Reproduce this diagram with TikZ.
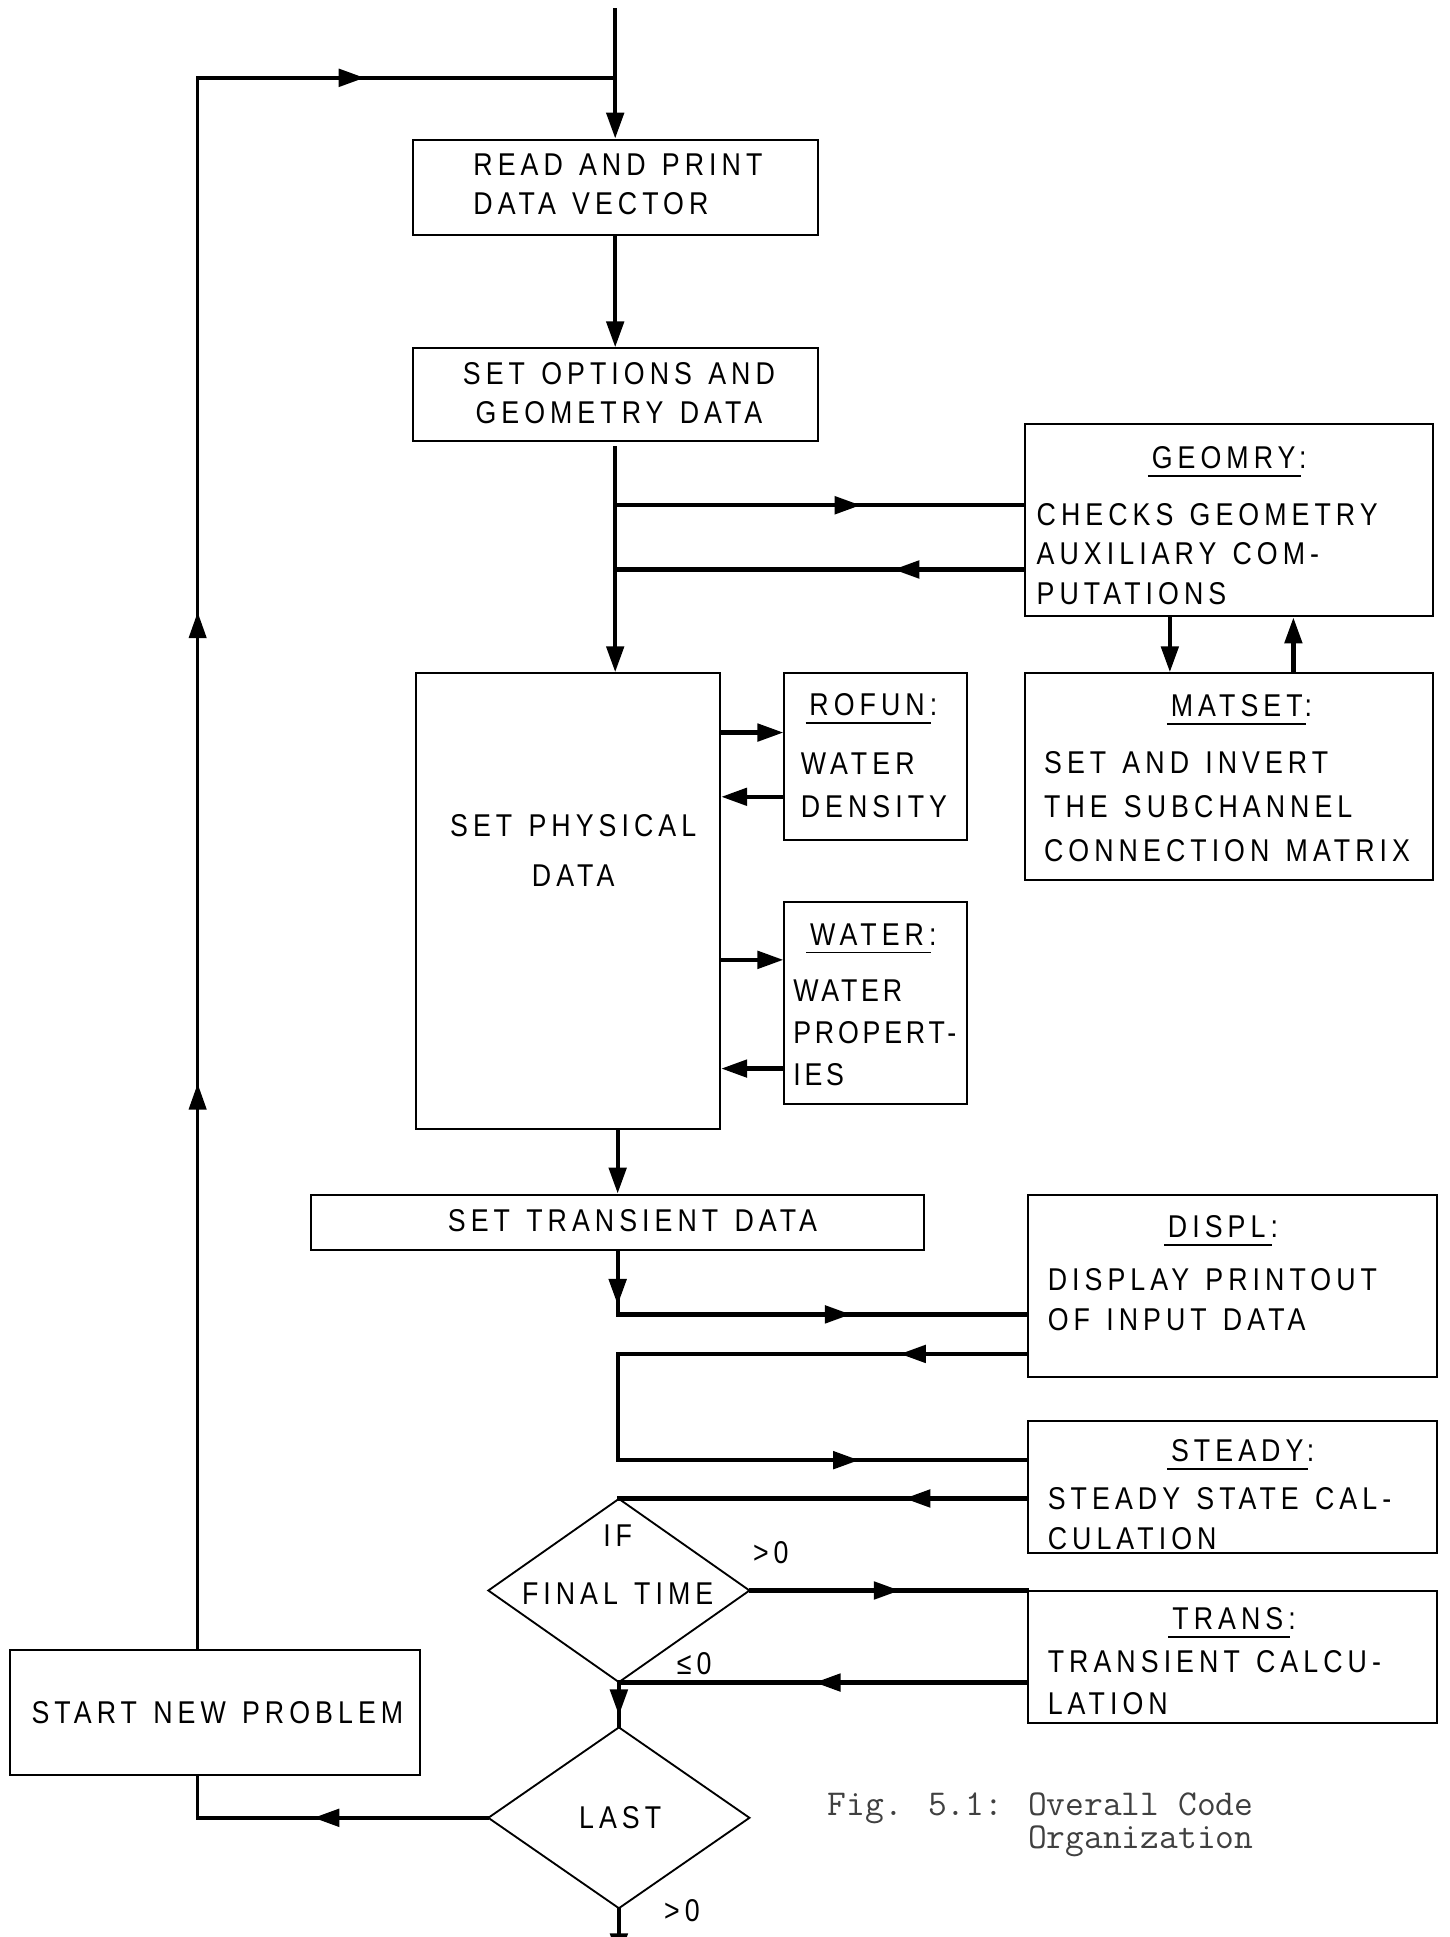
\documentclass[tikz,border=0pt]{standalone}
\usepackage{fontspec}
\setmainfont{Liberation Sans}[FakeStretch=0.85,LetterSpace=16,WordSpace=1.3]
\usetikzlibrary{arrows.meta,decorations.markings,shapes.geometric}
\tikzset{
  box/.style={draw,line width=1.7pt,inner sep=0pt},
  dia/.style={draw,diamond,line width=1.5pt,inner sep=0pt},
  txt/.style={inner sep=0pt,font=\fontsize{25.5}{32}\selectfont},
  flow/.style={line width=3.4pt,line cap=rect},
  leftline/.style={line width=2.6pt,line cap=rect},
  tipa/.style={-{Triangle[length=21pt,width=14pt]}},
  marr/.style={postaction={decorate,decoration={markings,mark=at position #1 with {\arrow{Triangle[length=21pt,width=14pt]}}}}},
  uline/.style={line width=1.5pt},
}
\begin{document}
\begin{tikzpicture}[x=1pt,y=-1pt]
\useasboundingbox (0,0) rectangle (1173,1568);

% boxes
\node[box,minimum width=328pt,minimum height=77pt] (read) at (498,151.5) {};
\node[box,minimum width=328pt,minimum height=75pt] (opts) at (498,319.5) {};
\node[box,minimum width=330pt,minimum height=156pt] (geomry) at (995,421) {};
\node[box,minimum width=330pt,minimum height=167pt] (matset) at (995,628.5) {};
\node[box,minimum width=246pt,minimum height=369pt] (phys) at (460,729.5) {};
\node[box,minimum width=148pt,minimum height=135pt] (rofun) at (709,612.5) {};
\node[box,minimum width=148pt,minimum height=164pt] (water) at (709,812) {};
\node[box,minimum width=496pt,minimum height=45pt] (tdata) at (500,989.5) {};
\node[box,minimum width=331pt,minimum height=148pt] (displ) at (997.5,1041) {};
\node[box,minimum width=331pt,minimum height=107pt] (steady) at (997.5,1203.5) {};
\node[box,minimum width=331pt,minimum height=107pt] (trans) at (997.5,1341.5) {};
\node[box,minimum width=332pt,minimum height=101pt] (start) at (174,1386.5) {};
\node[dia,minimum width=212pt,minimum height=149pt] (ifd) at (501,1287.5) {};
\node[dia,minimum width=212pt,minimum height=147pt] (last) at (501,1471.5) {};

% texts
\node[txt,align=left,anchor=north west] (readT) at (383,124) {READ AND PRINT\\DATA VECTOR};
\node[txt,align=center,anchor=north] (optsT) at (501,293) {SET OPTIONS AND\\GEOMETRY DATA};
\node[txt,anchor=base] (gTi) at (995,379) {GEOMRY:};
\node[txt,align=left,anchor=north west] (gT) at (839,407) {CHECKS GEOMETRY\\AUXILIARY COM-\\PUTATIONS};
\node[txt,anchor=base] (mTi) at (1005,580) {MATSET:};
\node[txt,align=left,anchor=north west,font=\fontsize{25.5}{35.5}\selectfont] (mT) at (845,608) {SET AND INVERT\\THE SUBCHANNEL\\CONNECTION MATRIX};
\node[txt,anchor=base] (rTi) at (707,579) {ROFUN:};
\node[txt,align=left,anchor=north west,font=\fontsize{25.5}{35}\selectfont] (rT) at (648,609) {WATER\\DENSITY};
\node[txt,anchor=base] (wTi) at (707,765) {WATER:};
\node[txt,align=left,anchor=north west,font=\fontsize{25.5}{34}\selectfont\addfontfeature{LetterSpace=12}] (wT) at (642,793) {WATER\\PROPERT-\\IES};
\node[txt,align=center,anchor=north,font=\fontsize{25.5}{41}\selectfont] (physT) at (464,659) {SET PHYSICAL\\DATA};
\node[txt] (tdataT) at (512,988) {SET TRANSIENT DATA};
\node[txt,anchor=base] (dTi) at (990,1002) {DISPL:};
\node[txt,align=left,anchor=north west] (dT) at (848,1027) {DISPLAY PRINTOUT\\OF INPUT DATA};
\node[txt,anchor=base] (sTi) at (1006,1183) {STEADY:};
\node[txt,align=left,anchor=north west] (sT) at (848,1204) {STEADY STATE CAL-\\CULATION};
\node[txt,anchor=base] (tTi) at (999,1319) {TRANS:};
\node[txt,align=left,anchor=north west,font=\fontsize{25.5}{34}\selectfont] (tT) at (848,1336) {TRANSIENT CALCU-\\LATION};
\node[txt] (startT) at (176,1386) {START NEW PROBLEM};
\node[txt] (ifT1) at (500,1243) {IF};
\node[txt] (ifT2) at (500,1290) {FINAL TIME};
\node[txt] (lastT) at (502,1471) {LAST};
\node[txt] (gt1) at (624,1257) {>0};
\node[txt] (le1) at (562,1347) {≤0};
\node[txt] (gt2) at (552,1547) {>0};
\node[inner sep=0pt,align=left,anchor=north west,text=black!75,font=\ttfamily\fontsize{29.5}{27}\selectfont] (cap) at (670,1451) {Fig. 5.1: Overall Code\\\phantom{Fig. 5.1: }Organization};

% underlines
\foreach \t in {gTi,mTi,rTi,wTi,dTi,sTi,tTi}{
  \draw[uline] ([xshift=-3pt,yshift=-6pt]\t.base west) -- ([xshift=-5pt,yshift=-6pt]\t.base east);
}

% coordinates
\coordinate (topref) at (0,8);
\coordinate (j1) at (498,63);
\coordinate (b1) at (498,409);
\coordinate (b2) at (498,461);
\coordinate (r1) at ([yshift=19.5pt]rofun.west);
\coordinate (r2) at ([yshift=-32.5pt]rofun.west);
\coordinate (w1) at ([yshift=35pt]water.west);
\coordinate (w2) at ([yshift=-53pt]water.west);
\coordinate (d1) at ([yshift=-23pt]displ.west);
\coordinate (d2) at ([yshift=-55pt]displ.west);
\coordinate (c1) at (tdata.south |- d1);
\coordinate (c2) at (tdata.south |- d2);
\coordinate (s1) at ([yshift=21.5pt]steady.west);
\coordinate (c3) at (tdata.south |- s1);
\coordinate (s2) at ([yshift=-9.5pt]steady.west);
\coordinate (t2) at ([yshift=-20.5pt]trans.west);
\coordinate (lx) at ([xshift=-14pt]start.south);
\coordinate (sx) at ([xshift=-14pt]start.north);
\coordinate (tl) at (sx |- j1);
\coordinate (botref) at (0,1586);
\coordinate (bot) at (last.south |- botref);

% connectors
\draw[flow,tipa] (read.north |- topref) -- (read.north);
\draw[flow,tipa] (read.south) -- (opts.north);
\draw[flow,tipa] ([yshift=-5pt]opts.south) -- (opts.south |- phys.north);
\draw[flow,marr=0.6] (b1) -- (b1 -| geomry.west);
\draw[flow,marr=0.32] (b2 -| geomry.west) -- (b2);
\draw[flow,tipa] ([xshift=-48pt]geomry.south) -- ([xshift=-48pt]matset.north);
\draw[flow,tipa] ([xshift=52pt]matset.north) -- ([xshift=52pt]geomry.south);
\draw[flow,tipa] (r1 -| phys.east) -- (r1);
\draw[flow,tipa] (r2) -- (r2 -| phys.east);
\draw[flow,tipa] (w1 -| phys.east) -- (w1);
\draw[flow,tipa] (w2) -- (w2 -| phys.east);
\draw[flow,tipa] (phys.south -| tdata.north) -- (tdata.north);
\draw[flow,marr=0.85] (tdata.south) -- (c1);
\draw[flow,marr=0.57] (c1) -- (d1);
\draw[flow,marr=0.31] (d2) -- (c2);
\draw[flow] (c2) -- (c3);
\draw[flow,marr=0.59] (c3) -- (s1);
\draw[flow,marr=0.3] (s2) -- (s2 -| ifd.north);
\draw[flow,marr=0.54] (ifd.east) -- (ifd.east -| trans.west);
\draw[flow,marr=0.52] (t2) -- (t2 -| ifd.south);
\draw[flow,marr=0.75] (ifd.south) -- (last.north);
\draw[flow,marr=0.6] (last.west) -- (last.west -| lx);
\draw[leftline] (last.west -| lx) -- (lx);
\draw[leftline,marr=0.36,marr=0.66] (sx) -- (tl);
\draw[flow,marr=0.4] (tl) -- (j1);
\draw[flow,tipa] (last.south) -- (bot);
\end{tikzpicture}
\end{document}
